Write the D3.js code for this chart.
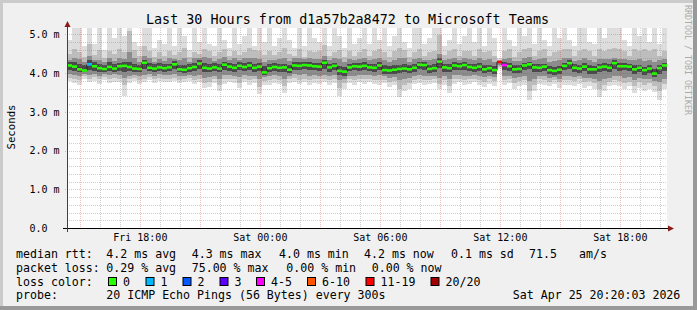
<!DOCTYPE html>
<html><head><meta charset="utf-8">
<script src="https://cdn.jsdelivr.net/npm/d3@7"></script>
<style>
html,body{margin:0;padding:0;background:#f0f0f0;}
svg{display:block;}
text{font-family:"DejaVu Sans Mono",monospace;white-space:pre;}
</style>
</head><body>
<svg id="chart" width="697" height="310"></svg>
<script>
// ---------------- data ----------------
const startTime = Date.UTC(2026, 3, 24, 14, 20, 3);
const stepMinutes = 15;
const median = [
4.20,4.17,4.10,4.07,4.23,4.18,4.13,4.11,4.16,4.12,
4.18,4.19,4.16,4.12,4.11,4.27,4.14,4.12,4.15,4.13,
4.15,4.23,4.10,4.09,4.13,4.16,4.25,4.14,4.12,4.15,
4.12,4.22,4.17,4.14,4.19,4.16,4.20,4.14,4.17,4.02,
4.13,4.16,4.14,4.15,4.09,4.20,4.19,4.21,4.20,4.18,
4.17,4.27,4.15,4.19,4.06,4.04,4.15,4.18,4.17,4.19,
4.15,4.14,4.20,4.08,4.07,4.09,4.11,4.12,4.10,4.14,
4.22,4.21,4.11,4.13,4.30,4.15,4.13,4.20,4.18,4.21,
4.16,4.14,4.17,4.10,4.13,4.08,4.29,4.21,4.18,4.10,
4.11,4.20,4.23,4.15,4.14,4.17,4.08,4.06,4.09,4.19,
4.26,4.14,4.12,4.17,4.10,4.10,4.15,4.17,4.14,4.26,
4.18,4.18,4.17,4.10,4.14,4.08,4.12,3.99,4.13,4.20];
const smokeHi1 = [
4.85,5.30,5.30,4.70,5.30,4.75,5.30,4.60,5.30,4.90,
5.30,4.95,5.30,4.80,4.70,5.30,5.30,4.65,4.85,4.75,
5.30,4.70,5.30,4.95,4.60,5.30,4.80,5.30,4.75,4.70,
5.30,4.85,4.65,5.30,4.75,4.95,5.30,4.70,5.30,4.80,
5.30,4.70,4.90,5.30,4.85,4.65,5.30,4.70,5.30,4.90,
4.80,5.30,4.70,5.30,4.95,4.65,5.30,4.75,4.90,5.30,
4.75,5.30,4.85,5.30,4.70,4.95,5.30,4.80,4.65,5.30,
5.30,4.75,4.90,5.30,5.30,4.70,4.85,5.30,4.75,4.95,
5.30,4.80,5.30,4.70,5.30,4.90,4.40,5.30,4.85,4.70,
5.30,4.95,5.30,4.75,5.30,4.85,4.70,5.30,4.90,5.30,
4.85,4.70,5.30,5.30,4.80,4.75,5.30,4.90,5.30,5.30,
5.30,4.85,4.70,5.30,4.95,5.30,4.80,5.30,4.75,5.30];
const smokeLo1 = [
3.80,3.75,3.70,3.85,3.78,3.80,3.72,3.82,3.75,3.78,
3.78,3.42,3.75,3.80,3.72,3.76,3.82,3.74,3.80,3.76,
3.78,3.80,3.74,3.76,3.80,3.72,3.78,3.62,3.65,3.74,
3.55,3.72,3.78,3.74,3.62,3.76,3.70,3.74,3.45,3.70,
3.70,3.75,3.72,3.48,3.74,3.78,3.72,3.76,3.70,3.74,
3.72,3.76,3.70,3.74,3.42,3.60,3.74,3.70,3.76,3.72,
3.76,3.72,3.70,3.74,3.65,3.70,3.38,3.55,3.60,3.72,
3.74,3.70,3.72,3.75,3.58,3.70,3.50,3.72,3.76,3.70,
3.72,3.76,3.70,3.65,3.72,3.68,4.10,3.70,3.74,3.60,
3.68,3.70,3.32,3.55,3.72,3.70,3.66,3.72,3.62,3.70,
3.70,3.66,3.72,3.62,3.68,3.60,3.38,3.55,3.66,3.70,
3.68,3.60,3.66,3.50,3.62,3.55,3.60,3.52,3.30,3.58];
const smokeHi2 = [
4.50,4.62,4.55,4.42,4.75,4.48,4.60,4.40,4.58,4.50,
4.62,4.55,5.10,4.60,4.45,4.70,4.58,4.42,4.55,4.45,
4.58,4.48,4.55,4.65,4.42,4.55,4.50,4.62,4.58,4.45,
4.55,4.62,4.45,4.58,4.48,4.55,4.65,4.60,4.58,4.48,
4.58,4.48,4.55,4.65,4.50,4.45,4.62,4.42,4.58,4.55,
4.58,4.72,4.45,4.55,4.60,4.42,4.58,4.45,4.55,4.62,
4.45,4.58,4.62,4.55,4.42,4.58,4.65,4.60,4.42,4.55,
4.62,4.45,4.55,4.58,5.00,4.48,4.58,4.62,4.45,4.58,
4.58,4.45,4.62,4.55,4.58,4.45,4.35,4.58,4.62,4.42,
4.55,4.62,4.65,4.45,4.58,4.62,4.45,4.55,4.58,4.62,
4.62,4.45,4.58,4.62,4.58,4.45,4.62,4.58,4.62,4.65,
4.62,4.58,4.45,4.62,4.58,4.62,4.58,4.62,4.45,4.58];
const smokeLo2 = [
3.88,3.85,3.82,3.92,3.86,3.90,3.84,3.90,3.85,3.88,
3.86,3.70,3.84,3.88,3.82,3.85,3.90,3.84,3.88,3.85,
3.86,3.88,3.83,3.85,3.88,3.82,3.86,3.74,3.76,3.84,
3.70,3.84,3.86,3.84,3.75,3.85,3.82,3.84,3.65,3.80,
3.82,3.85,3.82,3.68,3.84,3.87,3.83,3.86,3.82,3.84,
3.84,3.86,3.82,3.84,3.62,3.74,3.84,3.82,3.86,3.84,
3.85,3.83,3.82,3.82,3.76,3.80,3.60,3.70,3.74,3.82,
3.84,3.82,3.82,3.85,3.72,3.82,3.68,3.84,3.86,3.82,
3.84,3.86,3.82,3.78,3.84,3.80,4.15,3.82,3.84,3.74,
3.80,3.82,3.55,3.70,3.84,3.82,3.78,3.82,3.76,3.82,
3.82,3.80,3.84,3.76,3.80,3.74,3.60,3.70,3.78,3.82,
3.80,3.74,3.78,3.66,3.76,3.70,3.74,3.66,3.55,3.72];
const smokeHi3 = [
4.34,4.40,4.36,4.30,4.44,4.34,4.35,4.28,4.38,4.32,
4.38,4.36,4.55,4.40,4.30,4.45,4.38,4.30,4.36,4.32,
4.38,4.36,4.35,4.40,4.30,4.38,4.38,4.42,4.38,4.32,
4.36,4.42,4.34,4.38,4.35,4.38,4.40,4.38,4.36,4.28,
4.35,4.34,4.36,4.40,4.32,4.38,4.38,4.36,4.38,4.36,
4.36,4.44,4.34,4.38,4.36,4.28,4.36,4.34,4.36,4.38,
4.34,4.36,4.38,4.33,4.30,4.35,4.40,4.38,4.30,4.36,
4.38,4.35,4.33,4.36,4.50,4.34,4.36,4.38,4.35,4.38,
4.36,4.34,4.38,4.33,4.36,4.30,4.32,4.36,4.38,4.32,
4.32,4.38,4.42,4.34,4.36,4.38,4.30,4.32,4.34,4.38,
4.40,4.32,4.35,4.38,4.33,4.30,4.36,4.36,4.36,4.40,
4.36,4.36,4.34,4.33,4.36,4.32,4.34,4.30,4.33,4.36];
const smokeLo3 = [
3.97,3.95,3.92,3.98,3.95,3.98,3.94,3.98,3.96,3.97,
3.95,3.88,3.94,3.96,3.92,3.95,3.97,3.94,3.97,3.95,
3.95,3.97,3.93,3.94,3.96,3.92,3.96,3.88,3.90,3.94,
3.86,3.95,3.96,3.94,3.90,3.95,3.93,3.94,3.85,3.90,
3.93,3.95,3.93,3.86,3.93,3.97,3.95,3.97,3.94,3.95,
3.94,3.96,3.93,3.95,3.82,3.86,3.94,3.93,3.96,3.95,
3.95,3.94,3.95,3.92,3.88,3.90,3.82,3.86,3.88,3.93,
3.95,3.93,3.92,3.94,3.88,3.93,3.86,3.95,3.96,3.94,
3.94,3.96,3.93,3.90,3.93,3.90,4.20,3.93,3.94,3.88,
3.90,3.94,3.80,3.86,3.94,3.92,3.88,3.90,3.86,3.93,
3.93,3.90,3.93,3.88,3.88,3.86,3.80,3.85,3.88,3.94,
3.92,3.88,3.90,3.82,3.88,3.84,3.86,3.80,3.76,3.86];
const smokeHi4 = [
4.28,4.30,4.25,4.22,4.33,4.28,4.25,4.22,4.28,4.24,
4.27,4.28,4.30,4.24,4.22,4.35,4.26,4.23,4.26,4.24,
4.25,4.31,4.22,4.22,4.24,4.27,4.33,4.27,4.25,4.26,
4.24,4.30,4.27,4.24,4.28,4.26,4.29,4.24,4.27,4.18,
4.24,4.26,4.24,4.25,4.20,4.29,4.28,4.29,4.29,4.27,
4.26,4.35,4.24,4.27,4.18,4.15,4.24,4.27,4.26,4.28,
4.25,4.24,4.28,4.20,4.18,4.20,4.22,4.23,4.20,4.24,
4.29,4.28,4.22,4.23,4.38,4.25,4.23,4.28,4.26,4.29,
4.25,4.23,4.26,4.20,4.22,4.18,4.31,4.28,4.26,4.20,
4.20,4.27,4.30,4.24,4.23,4.25,4.18,4.17,4.19,4.27,
4.33,4.23,4.21,4.26,4.20,4.19,4.24,4.26,4.23,4.33,
4.26,4.26,4.25,4.20,4.22,4.17,4.21,4.12,4.21,4.26];
const smokeLo4 = [
4.08,4.06,4.02,4.02,4.08,4.06,4.04,4.03,4.06,4.04,
4.06,4.04,4.05,4.03,4.02,4.10,4.05,4.03,4.06,4.04,
4.05,4.10,4.02,4.01,4.04,4.06,4.12,4.04,4.03,4.05,
4.03,4.08,4.06,4.04,4.07,4.05,4.08,4.03,4.05,3.96,
4.03,4.06,4.04,4.04,4.00,4.09,4.08,4.10,4.09,4.07,
4.06,4.12,4.04,4.07,3.96,3.94,4.05,4.07,4.06,4.08,
4.05,4.04,4.09,3.98,3.97,3.99,4.00,4.02,4.00,4.04,
4.10,4.08,4.00,4.03,4.14,4.04,4.02,4.08,4.07,4.09,
4.05,4.04,4.06,4.00,4.03,3.98,4.26,4.08,4.06,4.00,
4.00,4.08,4.10,4.04,4.03,4.06,3.98,3.96,3.99,4.08,
4.12,4.03,4.01,4.06,3.99,3.98,4.03,4.05,4.02,4.12,
4.06,4.07,4.05,3.98,4.02,3.96,4.00,3.90,3.99,4.06];
const lostPings = [
0,0,0,0,1,0,0,0,0,0, 0,0,0,0,0,0,0,0,0,0,
0,0,0,0,0,0,0,0,0,0, 0,0,0,0,0,0,0,0,0,0,
0,0,0,0,0,0,0,0,0,0, 0,0,0,0,0,0,0,0,0,0,
0,0,0,0,0,0,0,0,0,0, 0,0,0,0,0,0,0,0,0,0,
0,0,0,0,0,0,15,4,0,0, 0,0,0,0,0,0,0,0,0,0,
0,0,0,0,0,0,0,0,0,0, 0,0,0,0,0,0,0,0,0,0];
const lossLabels = ["0","1","2","3","4-5","6-10","11-19","20/20"];
const lossMaxPings = [0,1,2,3,5,10,19,20];
const lossColors = ["#26ff00","#00b8ff","#0059ff","#5e00ff","#ff00ff","#ff5500","#ff0000","#a10000"];
const yTickValues = [0,1,2,3,4,5];
const titleText = "Last 30 Hours from d1a57b2a8472 to Microsoft Teams";

// ---------------- layout ----------------
const W = 697, H = 310;
const PL = 67, PR = 667, PT = 28, PB = 228;
const svg = d3.select("#chart");
const N = median.length;
const times = d3.range(N + 1).map(i => new Date(startTime + i * stepMinutes * 60000));
const x = d3.scaleUtc().domain([times[0], times[N]]).range([PL, PR]);
const y = d3.scaleLinear().domain([0, 200 / 38.7]).range([PB, PT]);

// background + frame shading
svg.append("rect").attr("width", W).attr("height", H).attr("fill", "#f0f0f0");
svg.append("rect").attr("x",0).attr("y",0).attr("width",W).attr("height",3).attr("fill","#cbcbcb");
svg.append("rect").attr("x",0).attr("y",0).attr("width",3).attr("height",H).attr("fill","#cbcbcb");
svg.append("rect").attr("x",W-4).attr("y",0).attr("width",4).attr("height",H).attr("fill","#999999");
svg.append("rect").attr("x",0).attr("y",H-4).attr("width",W).attr("height",4).attr("fill","#999999");

// canvas
svg.append("rect").attr("x", PL).attr("y", PT).attr("width", PR - PL).attr("height", PB - PT).attr("fill", "#ffffff");
svg.append("clipPath").attr("id", "plotclip").append("rect")
  .attr("x", PL).attr("y", PT).attr("width", PR - PL).attr("height", PB - PT);
const plot = svg.append("g").attr("clip-path", "url(#plotclip)");

// smoke bands
const bands = [
  [smokeLo1, smokeHi1, "#dddddd"],
  [smokeLo2, smokeHi2, "#bdbdbd"],
  [smokeLo3, smokeHi3, "#8c8c8c"],
  [smokeLo4, smokeHi4, "#4a4a4a"]
];
bands.forEach(([lo, hi, col]) => {
  plot.append("g").attr("shape-rendering", "crispEdges")
    .selectAll("rect").data(d3.range(N)).join("rect")
    .attr("x", i => x(times[i]))
    .attr("width", i => x(times[i + 1]) - x(times[i]))
    .attr("y", i => y(hi[i]))
    .attr("height", i => y(lo[i]) - y(hi[i]))
    .attr("fill", col);
});

// median: dark step line + colored segments
const stepLine = d3.line()
  .x(d => x(d[0])).y(d => y(d[1])).curve(d3.curveStepAfter);
const stepPts = median.map((m, i) => [times[i], m]);
stepPts.push([times[N], median[N - 1]]);
plot.append("path").attr("d", stepLine(stepPts))
  .attr("fill", "none").attr("stroke", "#202020").attr("stroke-width", 1);
function lossColor(n) {
  for (let k = 0; k < lossMaxPings.length; k++) if (n <= lossMaxPings[k]) return lossColors[k];
  return lossColors[lossColors.length - 1];
}
plot.append("g").selectAll("line").data(d3.range(N)).join("line")
  .attr("x1", i => x(times[i])).attr("x2", i => x(times[i + 1]))
  .attr("y1", i => y(median[i])).attr("y2", i => y(median[i]))
  .attr("stroke", i => lossColor(lostPings[i]))
  .attr("stroke-width", 2.6);

// grid (on top)
const grid = svg.append("g").attr("shape-rendering", "crispEdges");
const minorCol = "rgba(140,140,140,0.42)";
const majorCol = "rgba(215,45,45,0.3)";
const yMinor = d3.range(0, 5.2, 0.2).filter(v => Math.abs(v - Math.round(v)) > 0.01 && y(v) > PT);
grid.selectAll(".ymin").data(yMinor).join("line")
  .attr("x1", PL).attr("x2", PR).attr("y1", d => Math.round(y(d)) + 0.5).attr("y2", d => Math.round(y(d)) + 0.5)
  .attr("stroke", minorCol).attr("stroke-dasharray", "1,1");
const hours = d3.utcHour.range(times[0], times[N]);
const xMinor = hours.filter(d => d.getUTCHours() % 3 !== 0);
const xMajor = hours.filter(d => d.getUTCHours() % 3 === 0);
grid.selectAll(".xmin").data(xMinor).join("line")
  .attr("x1", d => Math.round(x(d)) + 0.5).attr("x2", d => Math.round(x(d)) + 0.5)
  .attr("y1", PT).attr("y2", PB)
  .attr("stroke", minorCol).attr("stroke-dasharray", "1,1");
grid.selectAll(".ymaj").data(yTickValues.filter(v => v > 0)).join("line")
  .attr("x1", PL - 2).attr("x2", PR).attr("y1", d => Math.round(y(d)) + 0.5).attr("y2", d => Math.round(y(d)) + 0.5)
  .attr("stroke", majorCol).attr("stroke-dasharray", "1,1");
grid.selectAll(".xmaj").data(xMajor).join("line")
  .attr("x1", d => Math.round(x(d)) + 0.5).attr("x2", d => Math.round(x(d)) + 0.5)
  .attr("y1", PT).attr("y2", PB + 2)
  .attr("stroke", majorCol).attr("stroke-dasharray", "1,1");

// axes
const ax = svg.append("g").attr("shape-rendering", "crispEdges");
ax.append("line").attr("x1", PL - 4).attr("x2", PR + 1).attr("y1", PB + 0.5).attr("y2", PB + 0.5)
  .attr("stroke", "#000000");
ax.append("line").attr("x1", PL + 0.5).attr("x2", PL + 0.5).attr("y1", PB + 4).attr("y2", PT - 2)
  .attr("stroke", "#404040");
svg.append("path").attr("d", `M${PR+1},${PB-2.5}L${PR+7},${PB+0.5}L${PR+1},${PB+3.5}Z`).attr("fill", "#8b1a1a");
svg.append("path").attr("d", `M${PL-2.5},${PT-1}L${PL+0.5},${PT-7}L${PL+3.5},${PT-1}Z`).attr("fill", "#8b1a1a");

// y labels
svg.append("g").selectAll("text").data(yTickValues).join("text")
  .attr("x", 29.5).attr("y", d => y(d) + 3.6)
  .attr("font-size", "10px").attr("fill", "#000")
  .text(d => d === 0 ? "0.0" : d.toFixed(1) + " m");

// x labels
const xLabelTicks = hours.filter(d => d.getUTCHours() % 6 === 0);
svg.append("g").selectAll("text").data(xLabelTicks).join("text")
  .attr("x", d => x(d)).attr("y", 241)
  .attr("text-anchor", "middle").attr("font-size", "10px").attr("fill", "#000")
  .text(d3.utcFormat("%a %H:%M"));

// title
svg.append("text").attr("x", 347.5).attr("y", 24).attr("text-anchor", "middle")
  .attr("font-size", "13.4px").attr("fill", "#000").text(titleText);

// y axis title
svg.append("text").attr("transform", "translate(14.5,127) rotate(-90)")
  .attr("text-anchor", "middle").attr("font-size", "10.7px").attr("fill", "#000").text("Seconds");

// watermark
svg.append("text").attr("transform", "translate(684.5,5) rotate(90)")
  .attr("font-size", "8.3px").attr("fill", "#ababab").text("RRDTOOL / TOBI OETIKER");

// legend
const lg = svg.append("g").attr("font-size", "11.6px").attr("fill", "#000");
const legendItems = [
  [16, 257.5, "median rtt:"], [106.3, 257.5, "4.2 ms avg"], [191.7, 257.5, "4.3 ms max"],
  [279, 257.5, "4.0 ms min"], [364, 257.5, "4.2 ms now"], [451, 257.5, "0.1 ms sd"],
  [529, 257.5, "71.5"], [579, 257.5, "am/s"],
  [16, 271.5, "packet loss:"], [106.3, 271.5, "0.29 % avg"], [191.7, 271.5, "75.00 % max"],
  [286.3, 271.5, "0.00 % min"], [371.7, 271.5, "0.00 % now"],
  [16, 285.5, "loss color:"],
  [16, 299.3, "probe:"], [106.3, 299.3, "20 ICMP Echo Pings (56 Bytes) every 300s"],
  [512.8, 299.3, "Sat Apr 25 20:20:03 2026"]
];
lg.selectAll("text").data(legendItems).join("text")
  .attr("x", d => d[0]).attr("y", d => d[1]).text(d => d[2]);
const boxX = [108, 145.5, 182.5, 219.5, 256, 307, 365.5, 430.5];
const lb = svg.append("g");
lb.selectAll("rect").data(lossColors).join("rect")
  .attr("x", (d, i) => boxX[i] + 0.5).attr("y", 277.5).attr("width", 8).attr("height", 8)
  .attr("fill", d => d).attr("stroke", "#000").attr("stroke-width", 1);
lb.selectAll("text").data(lossLabels).join("text")
  .attr("x", (d, i) => boxX[i] + 15).attr("y", 285.5)
  .attr("font-size", "11.6px").attr("fill", "#000").text(d => d);
</script>
</body></html>
